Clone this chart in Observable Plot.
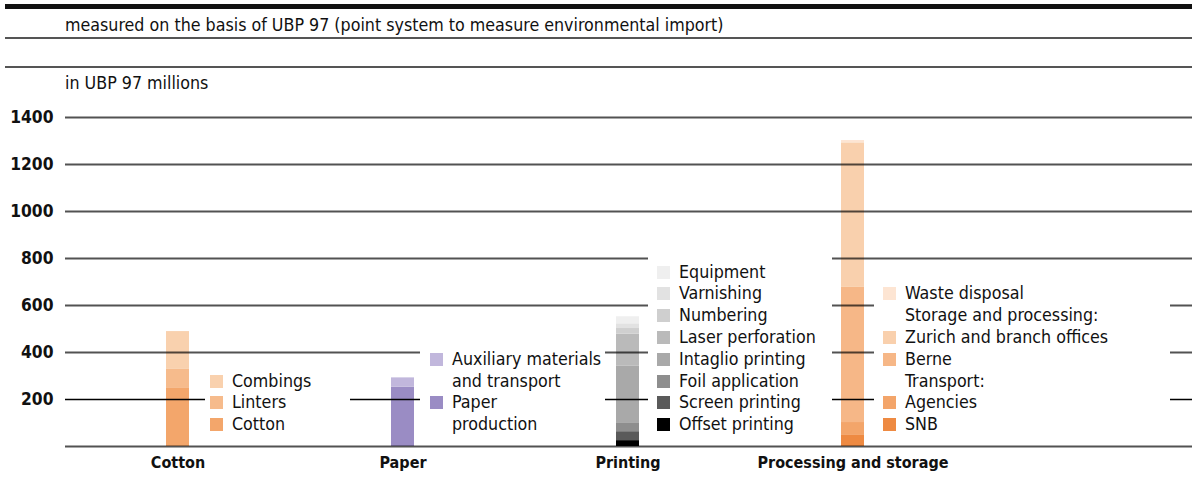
<!DOCTYPE html>
<html><head><meta charset="utf-8">
<script src="https://cdn.jsdelivr.net/npm/d3@7"></script>
<script src="https://cdn.jsdelivr.net/npm/@observablehq/plot@0.6"></script>
<style>
body{margin:0;background:#fff;font-family:"DejaVu Sans Condensed","DejaVu Sans",sans-serif;color:#111;}
#wrap{position:relative;width:1192px;height:479px;overflow:hidden;}
#wrap svg{position:absolute;left:0;top:0;}
.hl{position:absolute;left:5px;right:0;}
.htext{position:absolute;left:65px;font-size:17.7px;line-height:20px;white-space:nowrap;}
.legend{position:absolute;background:#fff;font-size:17.7px;line-height:21.8px;box-sizing:border-box;padding-top:6px;padding-bottom:5px;}
.row{display:flex;align-items:flex-start;white-space:pre;height:21.8px;}
.row.two{height:43.6px;}
.sw{width:13px;height:13px;margin-top:4px;margin-right:9px;flex:none;}
.nosw{width:13px;margin-right:9px;flex:none;}
</style></head><body><div id="wrap"></div>
<script>
// ---- data ----
const categories = ["Cotton", "Paper", "Printing", "Processing and storage"];
const components = [
  "Cotton", "Linters", "Combings",
  "Paper production", "Auxiliary materials and transport",
  "Offset printing", "Screen printing", "Foil application", "Intaglio printing",
  "Laser perforation", "Numbering", "Varnishing", "Equipment",
  "SNB", "Agencies", "Berne", "Zurich and branch offices", "Waste disposal"
];
const componentCategory = [
  "Cotton", "Cotton", "Cotton",
  "Paper", "Paper",
  "Printing", "Printing", "Printing", "Printing", "Printing", "Printing", "Printing", "Printing",
  "Processing and storage", "Processing and storage", "Processing and storage", "Processing and storage", "Processing and storage"
];
const values = [
  247, 81, 161,
  252, 40,
  25, 38, 35, 245, 135, 24, 20, 30,
  47, 55, 575, 615, 10
];
const colors = [
  "#f3a66b", "#f6bb8c", "#f9d1ae",
  "#9a8cc4", "#c1b7dc",
  "#000000", "#5a5a5a", "#8e8e8e", "#a9a9a9", "#bababa", "#cfcfcf", "#e2e2e2", "#efefef",
  "#ee8a42", "#f3a56a", "#f6b787", "#f9d0ad", "#fde5d3"
];
const yTicks = [200, 400, 600, 800, 1000, 1200, 1400];
const gridValues = [0, 200, 400, 600, 800, 1000, 1200, 1400];
const legendLabels = {
  "Auxiliary materials and transport": "Auxiliary materials\nand transport",
  "Paper production": "Paper\nproduction"
};
const legendHeaders = {
  "Zurich and branch offices": "Storage and processing:",
  "Agencies": "Transport:"
};
const subtitle = "measured on the basis of UBP 97 (point system to measure environmental import)";
const unitLabel = "in UBP 97 millions";

// ---- build ----
const table = components.map((c, i) => ({category: componentCategory[i], component: c, value: values[i]}));
const font = '"DejaVu Sans Condensed","DejaVu Sans",sans-serif';

const chart = Plot.plot({
  width: 1192, height: 479,
  marginTop: 117, marginBottom: 33, marginLeft: 65, marginRight: 0,
  style: {fontFamily: font, background: "transparent", color: "#111"},
  x: {domain: categories, range: [63, 966], paddingInner: 0, paddingOuter: 0, label: null},
  y: {domain: [0, 1400], label: null},
  color: {domain: components, range: colors},
  marks: [
    Plot.barY(table, Plot.stackY({x: "category", y: "value", fill: "component", insetLeft: 101, insetRight: 101})),
    Plot.ruleY(gridValues.filter(v => v !== 200), {stroke: "#000", strokeOpacity: 0.68, strokeWidth: 2.2}),
    Plot.ruleY(gridValues.filter(v => v === 200), {stroke: "#000", strokeWidth: 1.4}),
    Plot.axisY(yTicks, {tickSize: 0, tickPadding: 12, fontWeight: "bold", fontSize: 17.3, tickFormat: d => String(d), label: null}),
    Plot.axisX({tickSize: 0, tickPadding: 10, fontWeight: "bold", fontSize: 16, label: null})
  ]
});

const wrap = document.getElementById("wrap");
wrap.appendChild(chart);

function addDiv(cls, styles, text) {
  const d = document.createElement("div");
  d.className = cls;
  Object.assign(d.style, styles);
  if (text != null) d.textContent = text;
  wrap.appendChild(d);
  return d;
}
addDiv("hl", {top: "4px", height: "5px", background: "#111"});
addDiv("htext", {top: "15px"}, subtitle);
addDiv("hl", {top: "37px", height: "2px", background: "#555"});
addDiv("hl", {top: "66px", height: "2px", background: "#555"});
addDiv("htext", {top: "73px"}, unitLabel);

// legends: white boxes beside each bar
const legendBoxes = {
  "Cotton": {left: 205, right: 350, pad: 5},
  "Paper": {left: 420, right: 605, pad: 10},
  "Printing": {left: 648, right: 832, pad: 9},
  "Processing and storage": {left: 874, right: 1170, pad: 9}
};
const colorOf = Object.fromEntries(components.map((c, i) => [c, colors[i]]));
for (const cat of categories) {
  const box = legendBoxes[cat];
  const items = components.filter((c, i) => componentCategory[i] === cat).reverse();
  const lg = addDiv("legend", {left: box.left + "px", width: (box.right - box.left) + "px", bottom: (479 - 441) + "px", paddingLeft: box.pad + "px"});
  for (const c of items) {
    if (legendHeaders[c]) {
      const h = document.createElement("div");
      h.className = "row";
      h.innerHTML = '<span class="nosw"></span>';
      h.appendChild(document.createTextNode(legendHeaders[c]));
      lg.appendChild(h);
    }
    const r = document.createElement("div");
    const label = legendLabels[c] || c;
    r.className = "row" + (label.includes("\n") ? " two" : "");
    const s = document.createElement("span");
    s.className = "sw";
    s.style.background = colorOf[c];
    r.appendChild(s);
    r.appendChild(document.createTextNode(label));
    lg.appendChild(r);
  }
}
</script></body></html>
